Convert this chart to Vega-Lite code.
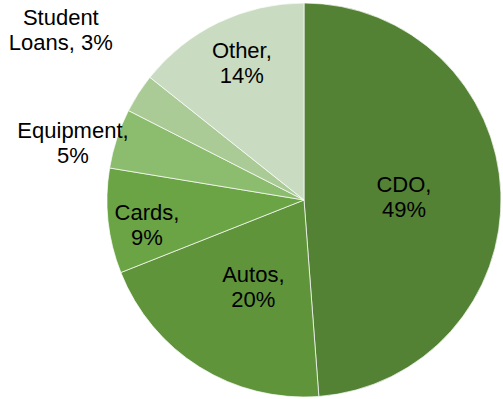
{
  "$schema": "https://vega.github.io/schema/vega-lite/v6.json",
  "width": 394,
  "height": 394,
  "autosize": {"type": "none"},
  "padding": {"left": 107, "top": 3, "right": 2, "bottom": 2},
  "background": "#ffffff",
  "config": {"view": {"stroke": null}},
  "data": {
    "values": [
      {"category": "CDO", "value": 48.8, "order": 1, "label": "CDO,\n49%"},
      {"category": "Autos", "value": 20.2, "order": 2, "label": "Autos,\n20%"},
      {"category": "Cards", "value": 8.6, "order": 3, "label": "Cards,\n9%"},
      {"category": "Equipment", "value": 4.9, "order": 4, "label": "Equipment,\n5%"},
      {"category": "Student Loans", "value": 3.2, "order": 5, "label": "Student\nLoans, 3%"},
      {"category": "Other", "value": 14.3, "order": 6, "label": "Other,\n14%"}
    ]
  },
  "encoding": {
    "theta": {"field": "value", "type": "quantitative", "stack": true},
    "order": {"field": "order", "type": "quantitative"}
  },
  "layer": [
    {
      "mark": {"type": "arc", "stroke": "#ffffff", "strokeWidth": 0.7},
      "encoding": {
        "color": {
          "field": "category",
          "type": "nominal",
          "scale": {
            "domain": ["CDO", "Autos", "Cards", "Equipment", "Student Loans", "Other"],
            "range": ["#548235", "#5f943b", "#6aa444", "#8cbc6d", "#aacb96", "#c9dcc2"]
          },
          "legend": null
        }
      }
    },
    {
      "mark": {"type": "text", "radius": 100, "dy": -11, "font": "Liberation Sans", "fontSize": 22, "lineHeight": 25, "lineBreak": "\n", "align": "center", "baseline": "middle", "color": "#000000"},
      "encoding": {"text": {"condition": {"test": "datum.category === 'CDO'", "field": "label"}, "value": ""}}
    },
    {
      "mark": {"type": "text", "radius": 103, "dx": 4, "dy": -12, "font": "Liberation Sans", "fontSize": 22, "lineHeight": 25, "lineBreak": "\n", "align": "center", "baseline": "middle", "color": "#000000"},
      "encoding": {"text": {"condition": {"test": "datum.category === 'Autos'", "field": "label"}, "value": ""}}
    },
    {
      "mark": {"type": "text", "radius": 158, "dy": -4, "font": "Liberation Sans", "fontSize": 22, "lineHeight": 25, "lineBreak": "\n", "align": "center", "baseline": "middle", "color": "#000000"},
      "encoding": {"text": {"condition": {"test": "datum.category === 'Cards'", "field": "label"}, "value": ""}}
    },
    {
      "mark": {"type": "text", "radius": 150, "dx": 3, "dy": -14, "font": "Liberation Sans", "fontSize": 22, "lineHeight": 25, "lineBreak": "\n", "align": "center", "baseline": "middle", "color": "#000000"},
      "encoding": {"text": {"condition": {"test": "datum.category === 'Other'", "field": "label"}, "value": ""}}
    },
    {
      "mark": {"type": "text", "radius": 200, "dx": -41, "dy": -7, "font": "Liberation Sans", "fontSize": 22, "lineHeight": 25, "lineBreak": "\n", "align": "center", "baseline": "middle", "color": "#000000"},
      "encoding": {"text": {"condition": {"test": "datum.category === 'Equipment'", "field": "label"}, "value": ""}}
    },
    {
      "mark": {"type": "text", "radius": 200, "dx": -75, "dy": -74, "font": "Liberation Sans", "fontSize": 22, "lineHeight": 25, "lineBreak": "\n", "align": "center", "baseline": "middle", "color": "#000000"},
      "encoding": {"text": {"condition": {"test": "datum.category === 'Student Loans'", "field": "label"}, "value": ""}}
    }
  ]
}
